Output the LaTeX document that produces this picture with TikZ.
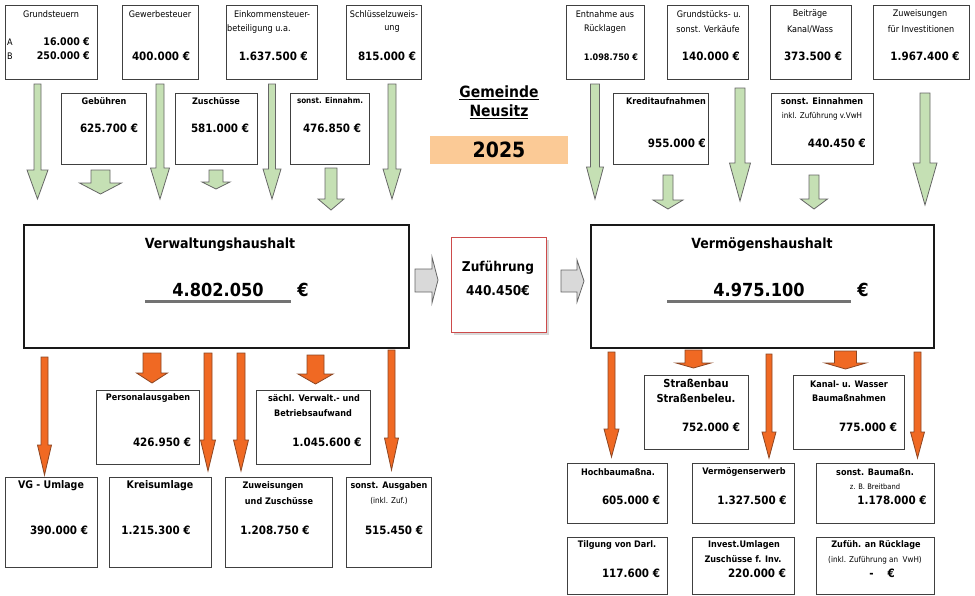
\documentclass[tikz,border=0pt]{standalone}
\usepackage{fontspec}
\setmainfont{DejaVu Sans Condensed}
\usetikzlibrary{positioning,shadows}

\definecolor{gruen}{RGB}{197,224,180}
\definecolor{orangefill}{RGB}{240,105,35}
\definecolor{orangerand}{RGB}{140,70,35}
\definecolor{graufill}{RGB}{217,217,217}
\definecolor{jahrfill}{RGB}{251,202,150}
\definecolor{rotrand}{RGB}{205,75,75}

% block arrow pointing down: style, x, top, tip, shaft half, head half, head length
\newcommand{\blockdown}[7]{%
  \draw[#1] (#2-#5,#3) -- (#2+#5,#3) -- (#2+#5,#4-#7) -- (#2+#6,#4-#7)
    -- (#2,#4) -- (#2-#6,#4-#7) -- (#2-#5,#4-#7) -- cycle;}

\begin{document}
\begin{tikzpicture}[x=1pt,y=-1pt,
    box/.style={draw=black!75, line width=1.1pt, anchor=north west, inner sep=0pt},
    mainbox/.style={draw=black!90, line width=2pt, anchor=north west, inner sep=0pt},
    zufbox/.style={draw=rotrand, line width=1.2pt, fill=white, anchor=north west, inner sep=0pt,
        drop shadow={shadow xshift=2pt, shadow yshift=-2pt, opacity=.3}},
    txt/.style={inner sep=0pt, font=\fontsize{9}{10}\selectfont},
    note/.style={inner sep=0pt, font=\fontsize{8}{9}\selectfont},
    ttl/.style={inner sep=0pt, font=\bfseries\fontsize{9}{10}\selectfont},
    ttlbig/.style={inner sep=0pt, font=\bfseries\fontsize{10.5}{12}\selectfont},
    val/.style={inner sep=0pt, font=\bfseries\fontsize{11.5}{13}\selectfont},
    hhtitle/.style={inner sep=0pt, font=\bfseries\fontsize{14}{16}\selectfont},
    hhnum/.style={inner sep=0pt, font=\bfseries\fontsize{18}{20}\selectfont},
    uline/.style={draw=black!55, line width=3pt},
    ein/.style={draw=black!60, fill=gruen, line width=0.8pt},
    aus/.style={draw=orangerand, fill=orangefill, line width=0.8pt},
    grau/.style={draw=black!60, fill=graufill, line width=0.8pt}]

\useasboundingbox (0,0) rectangle (975,595);

% Einnahmen Verwaltungshaushalt
\node[box, minimum width=92, minimum height=74] (grund) at (5,5) {};
\node[box, minimum width=76, minimum height=74] (gew) at (122,5) {};
\node[box, minimum width=91, minimum height=74] (eink) at (226,5) {};
\node[box, minimum width=75, minimum height=74] (schl) at (346,5) {};
\node[box, minimum width=85, minimum height=71] (geb) at (61,93) {};
\node[box, minimum width=82, minimum height=71] (zus) at (175,93) {};
\node[box, minimum width=79, minimum height=71] (sein) at (290,93) {};

\node[txt] (grundT) at (51,14) {Grundsteuern};
\node[txt, anchor=west] (grundA) at (7,42) {A};
\node[val, font=\bfseries\fontsize{10.5}{12}\selectfont, anchor=east] (grundAv) at (90,42) {16.000 €};
\node[txt, anchor=west] (grundB) at (7,56) {B};
\node[val, font=\bfseries\fontsize{10.5}{12}\selectfont, anchor=east] (grundBv) at (90,56) {250.000 €};
\node[txt] (gewT) at (160,14) {Gewerbesteuer};
\node[val] (gewV) at (161,56) {400.000 €};
\node[txt] (einkT) at (272,14) {Einkommensteuer-};
\node[txt, anchor=west] (einkU) at (227,29) {beteiligung u.a.};
\node[val, anchor=east] (einkV) at (308,56) {1.637.500 €};
\node[txt] (schlT) at (384,14) {Schlüsselzuweis-};
\node[txt] (schlU) at (392,29) {ung};
\node[val] (schlV) at (387,56) {815.000 €};
\node[ttl] (gebT) at (104,101) {Gebühren};
\node[val] (gebV) at (109,128) {625.700 €};
\node[ttl] (zusT) at (216,101) {Zuschüsse};
\node[val] (zusV) at (220,128) {581.000 €};
\node[ttl, font=\bfseries\fontsize{8}{9}\selectfont] (seinT) at (330,101) {sonst. Einnahm.};
\node[val] (seinV) at (332,128) {476.850 €};

% Einnahmen Vermoegenshaushalt
\node[box, minimum width=78, minimum height=74] (entn) at (566,5) {};
\node[box, minimum width=81, minimum height=74] (grst) at (667,5) {};
\node[box, minimum width=81, minimum height=74] (beit) at (770,5) {};
\node[box, minimum width=96, minimum height=74] (zuwi) at (873,5) {};
\node[box, minimum width=95, minimum height=71] (kred) at (613,93) {};
\node[box, minimum width=102, minimum height=71] (seinv) at (771,93) {};

\node[txt] (entnT) at (605,14) {Entnahme aus};
\node[txt] (entnU) at (605,29) {Rücklagen};
\node[ttl] (entnV) at (611,57) {1.098.750 €};
\node[txt] (grstT) at (709,14) {Grundstücks- u.};
\node[txt] (grstU) at (708,29) {sonst. Verkäufe};
\node[val, anchor=east] (grstV) at (740,56) {140.000 €};
\node[txt] (beitT) at (810,14) {Beiträge};
\node[txt] (beitU) at (810,29) {Kanal/Wass};
\node[val] (beitV) at (813,56) {373.500 €};
\node[txt] (zuwiT) at (920,14) {Zuweisungen};
\node[txt] (zuwiU) at (921,29) {für Investitionen};
\node[val] (zuwiV) at (925,56) {1.967.400 €};
\node[ttl] (kredT) at (666,101) {Kreditaufnahmen};
\node[val, anchor=east] (kredV) at (706,143) {955.000 €};
\node[ttl] (seinvT) at (822,101) {sonst. Einnahmen};
\node[note] (seinvU) at (822,116) {inkl. Zuführung v.VwH};
\node[val, anchor=east] (seinvV) at (866,143) {440.450 €};

% gruene Pfeile
\blockdown{ein}{37.5}{84}{199}{3.5}{10.5}{29}
\blockdown{ein}{100.5}{170}{194}{9.5}{21}{11}
\blockdown{ein}{160}{84}{199}{4}{9.5}{31}
\blockdown{ein}{216}{170}{189}{7}{14}{7}
\blockdown{ein}{272}{84}{199}{3.5}{9}{30}
\blockdown{ein}{331}{168}{210}{6}{13}{11}
\blockdown{ein}{392}{84}{199}{4}{9}{30}
\blockdown{ein}{595}{84}{199}{4.5}{8.5}{32}
\blockdown{ein}{668}{175}{209}{5}{15}{9}
\blockdown{ein}{740}{88}{201}{5}{10.5}{38}
\blockdown{ein}{814}{175}{209}{5}{13.5}{10}
\blockdown{ein}{925}{93}{205}{5}{12}{42}

% Mitte
\node[inner sep=0pt, align=center, font=\bfseries\fontsize{15.5}{19}\selectfont] (gemeinde) at (499,102)
    {\underline{Gemeinde}\\\underline{Neusitz}};
\node[fill=jahrfill, minimum width=138, minimum height=28, inner sep=0pt,
    font=\bfseries\fontsize{21}{24}\selectfont] (jahr) at (499,150) {2025};

\node[mainbox, minimum width=385, minimum height=123] (verw) at (23,224) {};
\node[hhtitle] (verwT) at (220,245) {Verwaltungshaushalt};
\node[hhnum] (verwV) at (218,290) {4.802.050};
\node[hhnum] (verwE) at (303,290) {€};
\draw[uline] (145,301) -- (291,301);

\node[mainbox, minimum width=343, minimum height=123] (verm) at (590,224) {};
\node[hhtitle] (vermT) at (762,245) {Vermögenshaushalt};
\node[hhnum] (vermV) at (759,290) {4.975.100};
\node[hhnum] (vermE) at (863,290) {€};
\draw[uline] (667,301) -- (851,301);

\node[zufbox, minimum width=95, minimum height=95] (zuf) at (451,237) {};
\node[inner sep=0pt, font=\bfseries\fontsize{13.5}{15}\selectfont] (zufT) at (498,268) {Zuführung};
\node[inner sep=0pt, font=\bfseries\fontsize{13.5}{15}\selectfont, below=10pt of zufT] (zufV) {440.450€};

\draw[grau] (415,269) -- (432,269) -- (432,257) -- (438,280) -- (432,303) -- (432,292) -- (415,292) -- cycle;
\draw[grau] (561,270) -- (577,270) -- (577,260) -- (584,281) -- (577,302) -- (577,292) -- (561,292) -- cycle;

% orange Pfeile
\blockdown{aus}{44.5}{357}{475}{3.5}{7}{30}
\blockdown{aus}{152}{353}{383}{9}{15.5}{10}
\blockdown{aus}{208}{353}{471}{4}{7.5}{31}
\blockdown{aus}{241}{353}{471}{4}{7.5}{31}
\blockdown{aus}{315.5}{355}{384}{8.5}{17.5}{10}
\blockdown{aus}{391.5}{350}{470}{3.5}{7}{32}
\blockdown{aus}{611.5}{352}{457}{3.5}{7.5}{28}
\blockdown{aus}{693.5}{350}{368}{8.5}{17.5}{5}
\blockdown{aus}{769}{354}{458}{3}{7}{26}
\blockdown{aus}{845.5}{351}{369}{11}{20.5}{6}
\blockdown{aus}{917.5}{352}{458}{3.5}{7}{26}

% Ausgaben Verwaltungshaushalt
\node[box, minimum width=103, minimum height=74] (pers) at (96,390) {};
\node[box, minimum width=114, minimum height=74] (saechl) at (256,390) {};
\node[box, minimum width=92, minimum height=90] (vg) at (5,477) {};
\node[box, minimum width=102, minimum height=90] (kreis) at (109,477) {};
\node[box, minimum width=107, minimum height=90] (zuwa) at (225,477) {};
\node[box, minimum width=85, minimum height=90] (sausg) at (346,477) {};

\node[ttl] (persT) at (148,398) {Personalausgaben};
\node[val] (persV) at (162,442) {426.950 €};
\node[ttl] (saechlT) at (314,398) {sächl. Verwalt.- und};
\node[ttl] (saechlU) at (313,413) {Betriebsaufwand};
\node[val] (saechlV) at (327,442) {1.045.600 €};
\node[ttlbig] (vgT) at (51,486) {VG - Umlage};
\node[val] (vgV) at (59,530) {390.000 €};
\node[ttlbig] (kreisT) at (160,486) {Kreisumlage};
\node[val] (kreisV) at (156,530) {1.215.300 €};
\node[ttl] (zuwaT) at (273,486) {Zuweisungen};
\node[ttl] (zuwaU) at (279,501) {und Zuschüsse};
\node[val] (zuwaV) at (275,530) {1.208.750 €};
\node[ttl] (sausgT) at (389,486) {sonst. Ausgaben};
\node[note] (sausgU) at (389,501) {(inkl. Zuf.)};
\node[val] (sausgV) at (394,530) {515.450 €};

% Ausgaben Vermoegenshaushalt
\node[box, minimum width=104, minimum height=74] (strb) at (644,375) {};
\node[box, minimum width=111, minimum height=74] (kanal) at (793,375) {};
\node[box, minimum width=100, minimum height=60] (hoch) at (567,463) {};
\node[box, minimum width=102, minimum height=60] (verwerb) at (692,463) {};
\node[box, minimum width=118, minimum height=60] (sbau) at (816,463) {};
\node[box, minimum width=100, minimum height=57] (tilg) at (567,537) {};
\node[box, minimum width=102, minimum height=57] (inv) at (692,537) {};
\node[box, minimum width=118, minimum height=57] (zufr) at (816,537) {};

\node[ttl, font=\bfseries\fontsize{11}{12}\selectfont] (strbT) at (696,383) {Straßenbau};
\node[ttl, font=\bfseries\fontsize{11}{12}\selectfont] (strbU) at (696,398) {Straßenbeleu.};
\node[val] (strbV) at (711,427) {752.000 €};
\node[ttl] (kanalT) at (849,384) {Kanal- u. Wasser};
\node[ttl] (kanalU) at (849,398) {Baumaßnahmen};
\node[val] (kanalV) at (868,427) {775.000 €};
\node[ttl] (hochT) at (618,472) {Hochbaumaßna.};
\node[val] (hochV) at (631,500) {605.000 €};
\node[ttl] (verwerbT) at (744,472) {Vermögenserwerb};
\node[val] (verwerbV) at (752,500) {1.327.500 €};
\node[ttl] (sbauT) at (875,472) {sonst. Baumaßn.};
\node[note, font=\fontsize{7.5}{8}\selectfont] (sbauU) at (875,487) {z. B. Breitband};
\node[val] (sbauV) at (892,500) {1.178.000 €};
\node[ttl] (tilgT) at (617,545) {Tilgung von Darl.};
\node[val] (tilgV) at (631,573) {117.600 €};
\node[ttl] (invT) at (744,545) {Invest.Umlagen};
\node[ttl] (invU) at (743,559) {Zuschüsse f. Inv.};
\node[val] (invV) at (757,573) {220.000 €};
\node[ttl] (zufrT) at (876,545) {Zufüh. an Rücklage};
\node[note] (zufrU) at (875,560) {(inkl. Zuführung an\ \ VwH)};
\node[val] (zufrV) at (882,573) {-\hspace{14pt}€};

\end{tikzpicture}
\end{document}
